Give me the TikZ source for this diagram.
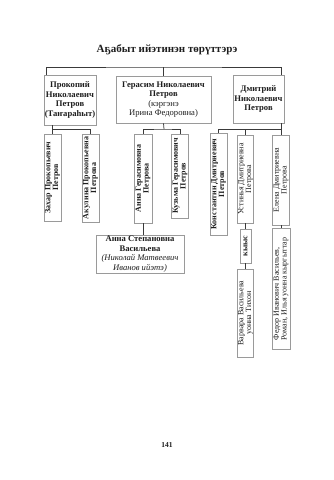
\documentclass[tikz,border=0pt]{standalone}
\usepackage{fontspec}
\setmainfont{Liberation Serif}
\definecolor{boxborder}{HTML}{9A9A9A}
\definecolor{linedark}{HTML}{3A3A3A}
\definecolor{inkdark}{HTML}{1E1E1E}
\tikzset{
  heading/.style={font=\fontsize{11}{12}\selectfont\bfseries, text=inkdark},
  parent/.style={rectangle, draw=boxborder, line width=0.6pt, fill=white, align=center, inner sep=1pt, text=inkdark, font=\fontsize{8.6}{9.4}\selectfont\bfseries},
  kid/.style={rectangle, draw=boxborder, line width=0.6pt, fill=white, align=center, rotate=90, inner sep=1pt, text=inkdark, font=\fontsize{8}{7.6}\selectfont},
  kidbold/.style={kid, font=\fontsize{8}{7.6}\selectfont\bfseries},
  link/.style={draw=linedark, line width=0.75pt},
  pagenum/.style={font=\fontsize{7.5}{9}\selectfont\bfseries, text=inkdark}
}

\begin{document}
\begin{tikzpicture}[x=1pt, y=-1pt]

\fill[white] (0,0) rectangle (333,480);
\useasboundingbox (0,0) rectangle (333,480);

\node[heading] (title) at (167,50) {Аҕабыт ийэтинэн төрүттэрэ};

\node[parent, minimum width=52, minimum height=50] (prokopiy) at (70,100) {Прокопий\\Николаевич\\Петров\\(Таҥараһыт)};
\node[parent, minimum width=95, minimum height=47] (gerasim) at (163.5,99.5) {Герасим Николаевич\\Петров\\{\mdseries (кэргэнэ}\\{\mdseries Ирина Федоровна)}};
\node[parent, minimum width=51, minimum height=48] (dmitriy) at (258.5,99) {Дмитрий\\Николаевич\\Петров};

\node[kidbold, minimum width=87, minimum height=17] (zakhar) at (52.5,177.5) {Захар Прокопьевич\\Петров};
\node[kidbold, minimum width=88, minimum height=17] (akulina) at (90.5,178) {Акулина Прокопьевна\\Петрова};
\node[kidbold, minimum width=89, minimum height=18] (annag) at (143,178.5) {Анна Герасимовна\\Петрова};
\node[kidbold, minimum width=84, minimum height=16] (kuzma) at (180,176) {Кузьма Герасимович\\Петров};
\node[kidbold, minimum width=102, minimum height=17] (konstantin) at (218.5,184) {Константин Дмитриевич\\Петров};
\node[kid, minimum width=88, minimum height=16] (ustinya) at (245.5,179) {Устинья Дмитриевна\\Петрова};
\node[kid, minimum width=90, minimum height=17] (elena) at (281,180) {Елена Дмитриевна\\Петрова};

\node[parent, minimum width=88, minimum height=38] (annas) at (140,254) {Анна Степановна\\Васильева\\{\mdseries\itshape (Николай Матвеевич}\\{\mdseries\itshape Иванов ийэтэ)}};
\node[kidbold, minimum width=34, minimum height=11] (kyys) at (245.5,246) {кыыс};
\node[kid, minimum width=88, minimum height=16] (varvara) at (245.5,313) {Варвара Васильева\\уонна Тихон};
\node[kid, align=left, minimum width=121, minimum height=18] (fedor) at (281,289) {Федор Иванович Васильев,\\Роман, Илья уонна кыргыттар};

\node[pagenum] (page) at (167,445) {141};

\coordinate (topbar) at (164,67);
\coordinate (pbar) at (70,129);
\coordinate (gbar) at (164,129);
\coordinate (dbar) at (281,129);

\draw[link] ([xshift=3pt]prokopiy.north west) |- (topbar) -| ([xshift=-3pt]dmitriy.north east);
\draw[link] (gerasim.north) -- (gerasim.north |- topbar);

\draw[link] (prokopiy.south -| zakhar.east) -- (zakhar.east);
\draw[link] (zakhar.east |- pbar) -| (akulina.east);

\draw[link] (gerasim.south) -- (gbar);
\draw[link] (annag.east) |- (gbar) -| (kuzma.east);

\draw[link] (dmitriy.south -| elena.east) -- (elena.east);
\draw[link] (konstantin.east) |- (dbar);
\draw[link] (ustinya.east) -- (ustinya.east |- dbar);

\draw[link] (annag.west) -- (annag.west |- annas.north);
\draw[link] (ustinya.west) -- (kyys.east);
\draw[link] (kyys.west) -- (varvara.east);
\draw[link] (elena.west) -- (fedor.east);

\end{tikzpicture}
\end{document}
